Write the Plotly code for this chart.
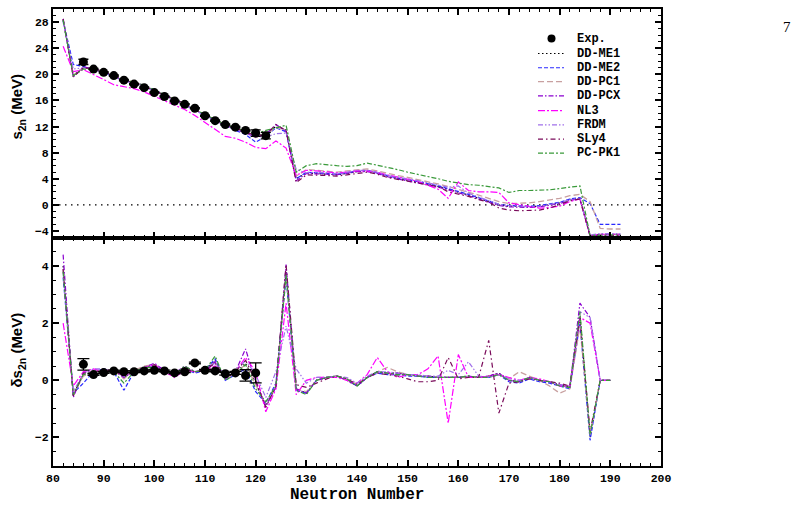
import plotly.graph_objects as go
from plotly.subplots import make_subplots

# ---------------- data ----------------
N_top = list(range(82, 194, 2))      # 82..192
N_bot = list(range(82, 192, 2))      # 82..190
N_exp = list(range(86, 124, 2))      # 86..122
N_exp_d = list(range(86, 122, 2))    # 86..120

exp_s2n = [21.9, 20.8, 20.3, 19.8, 19.1, 18.5, 17.95, 17.2, 16.6, 15.9,
           15.4, 14.8, 13.65, 12.9, 12.3, 11.9, 11.4, 11.0, 10.6]
exp_s2n_err = [0.4, 0.1, 0.1, 0.1, 0.1, 0.1, 0.1, 0.1, 0.1, 0.1,
               0.1, 0.1, 0.1, 0.1, 0.1, 0.1, 0.1, 0.5, 0.5]
exp_ds2n = [0.56, 0.2, 0.27, 0.33, 0.3, 0.3, 0.33, 0.35, 0.33, 0.26,
            0.3, 0.61, 0.35, 0.33, 0.23, 0.26, 0.17, 0.26]
exp_ds2n_err = [0.2, 0.03, 0.03, 0.03, 0.03, 0.03, 0.03, 0.03, 0.03, 0.03,
                0.03, 0.03, 0.03, 0.03, 0.05, 0.05, 0.2, 0.35]

s2n_ddme1 = [28.3, 19.8, 21.0, 20.9, 20.4, 19.8, 19.1, 18.7, 18.2, 17.5,
             16.8, 16.1, 15.5, 14.6, 13.8, 13.0, 12.3, 11.8, 11.2, 10.5,
             10.9, 12.0, 11.5, 4.0, 4.9, 4.8, 4.7, 4.6, 4.8, 5.1,
             5.2, 4.9, 4.4, 4.1, 3.8, 3.5, 3.1, 2.8, 2.4, 2.0,
             1.5, 1.0, 0.5, 0.0, -0.2, -0.3, -0.3, -0.2, 0.0, 0.3,
             0.8, 1.0, -4.7, -4.5, -4.5, -4.5]
s2n_ddme2 = [28.2, 21.5, 21.2, 20.8, 20.3, 19.7, 19.0, 18.8, 18.3, 17.6,
             16.9, 16.2, 15.4, 14.5, 13.7, 12.9, 12.2, 11.4, 10.8, 9.6,
             10.5, 11.8, 11.2, 4.0, 5.0, 4.9, 4.8, 4.7, 4.9, 5.2,
             5.3, 4.9, 4.4, 4.1, 3.9, 3.6, 3.3, 2.9, 2.5, 2.1,
             1.6, 1.1, 0.6, 0.1, -0.1, -0.2, -0.2, -0.1, 0.1, 0.4,
             0.9, 1.1, 0.2, -3.0, -3.0, -3.0]
s2n_ddpc1 = [28.4, 19.9, 21.0, 20.9, 20.4, 19.8, 19.2, 18.8, 18.3, 17.5,
             16.8, 16.1, 15.4, 14.6, 13.8, 13.0, 12.2, 11.7, 11.1, 10.3,
             10.7, 11.9, 11.4, 4.4, 5.4, 5.3, 5.1, 5.0, 5.2, 5.4,
             5.5, 5.2, 4.8, 4.5, 4.2, 3.9, 3.5, 3.2, 2.8, 2.4,
             2.0, 1.5, 1.0, 0.5, 0.2, 0.2, 0.3, 0.5, 0.7, 1.0,
             1.4, 1.6, 0.5, -3.6, -3.7, -3.7]
s2n_ddpcx = [28.5, 19.6, 21.1, 20.9, 20.4, 19.8, 19.0, 18.7, 18.2, 17.5,
             16.8, 16.0, 15.4, 14.6, 13.8, 12.9, 12.2, 11.6, 11.0, 10.4,
             10.8, 12.3, 11.3, 3.7, 4.8, 4.8, 4.7, 4.6, 4.8, 5.1,
             5.1, 4.8, 4.3, 4.0, 3.7, 3.4, 3.0, 2.7, 2.3, 1.9,
             1.4, 0.9, 0.4, -0.1, -0.3, -0.4, -0.4, -0.3, -0.1, 0.2,
             0.7, 0.9, -4.8, -4.6, -4.6, -4.6]
s2n_nl3 = [24.3, 20.4, 20.7, 20.0, 19.2, 18.4, 18.1, 17.8, 17.3, 16.6,
           16.0, 15.3, 14.6, 13.7, 12.6, 11.5, 10.5, 10.2, 9.6, 8.8,
           8.6, 9.8, 8.7, 4.5, 5.3, 5.2, 5.0, 4.9, 5.0, 5.2,
           5.2, 5.0, 4.6, 4.3, 4.0, 3.6, 3.0, 2.4, 1.0, 3.5,
           2.2, 2.0, 2.0, 1.9, 0.3, 0.0, -0.3, -0.5, -0.4, -0.2,
           0.5, 0.9, -4.7, -4.5, -4.5, -4.5]
s2n_frdm = [28.0, 20.8, 21.0, 20.7, 20.2, 19.6, 19.0, 18.6, 18.1, 17.4,
            16.7, 16.0, 15.3, 14.5, 13.7, 12.9, 12.2, 11.6, 11.0, 10.5,
            10.4, 10.9, 11.0, 5.4, 4.9, 5.0, 4.9, 4.8, 5.0, 5.3,
            5.3, 5.0, 4.5, 4.3, 4.0, 3.7, 3.4, 3.0, 2.7, 2.9,
            1.8, 1.2, 0.6, 0.1, -0.1, -0.2, -0.3, -0.2, 0.0, 0.3,
            0.8, 1.0, -4.6, -4.4, -4.4, -4.4]
s2n_sly4 = [28.5, 19.6, 21.0, 20.8, 20.4, 19.8, 19.1, 18.7, 18.2, 17.5,
            16.8, 16.1, 15.5, 14.6, 13.8, 13.0, 12.3, 11.8, 11.2, 10.6,
            10.7, 12.3, 11.4, 3.4, 4.6, 4.6, 4.5, 4.4, 4.6, 4.9,
            5.0, 4.7, 4.2, 3.9, 3.6, 3.3, 3.0, 2.8, 2.0, 1.7,
            1.3, 0.8, 0.4, -0.5, -0.8, -0.9, -0.9, -0.8, -0.5, 0.0,
            0.6, 0.9, -4.8, -4.7, -4.7, -4.7]
s2n_pcpk1 = [28.3, 19.8, 20.8, 20.8, 20.3, 19.7, 19.1, 18.8, 18.3, 17.6,
             16.9, 16.2, 15.5, 14.7, 13.8, 13.1, 12.2, 11.9, 11.3, 10.9,
             11.4, 11.8, 12.2, 5.0, 6.0, 6.3, 6.1, 6.0, 5.9, 6.0,
             6.4, 6.1, 5.7, 5.4, 5.0, 4.7, 4.4, 4.0, 3.6, 3.3,
             3.1, 3.0, 2.8, 2.6, 1.9, 2.2, 2.2, 2.2, 2.3, 2.5,
             2.7, 2.9, -4.7, -4.6, -4.6, -4.6]

ds_ddme1 = [4.0, -0.5, 0.2, 0.3, 0.35, 0.35, 0.1, 0.3, 0.45, 0.5,
            0.35, 0.25, 0.45, 0.3, 0.35, 0.7, 0.05, 0.25, 0.6, -0.1,
            -0.9, -0.2, 3.8, -0.3, -0.45, 0.0, 0.1, 0.15, 0.0, -0.2,
            0.1, 0.3, 0.25, 0.25, 0.2, 0.15, 0.15, 0.1, 0.1, 0.1,
            0.15, 0.1, 0.15, 0.25, 0.0, -0.05, 0.1, 0.0, -0.05, -0.15,
            -0.25, 2.3, -2.0, 0.0, 0.0]
ds_ddme2 = [3.6, -0.45, -0.1, 0.3, 0.4, 0.3, -0.35, 0.3, 0.45, 0.5,
            0.3, 0.2, 0.4, 0.25, 0.35, 0.75, 0.0, 0.2, 0.4, -0.4,
            -0.8, -0.1, 3.6, -0.35, -0.45, 0.0, 0.1, 0.15, 0.05, -0.2,
            0.1, 0.25, 0.2, 0.2, 0.15, 0.15, 0.1, 0.1, 0.1, 0.1,
            0.1, 0.1, 0.1, 0.2, -0.05, -0.1, 0.05, -0.05, -0.1, -0.2,
            -0.3, 2.0, -2.1, 0.0, 0.0]
ds_ddpc1 = [3.9, -0.5, 0.15, 0.3, 0.35, 0.35, 0.05, 0.35, 0.5, 0.55,
            0.35, 0.25, 0.4, 0.3, 0.35, 0.65, 0.05, 0.25, 0.55, -0.15,
            -0.85, -0.2, 3.7, -0.3, -0.4, 0.0, 0.1, 0.15, 0.05, -0.15,
            0.1, 0.3, 0.45, 0.3, 0.2, 0.15, 0.15, 0.1, 0.1, 0.1,
            0.1, 0.1, 0.15, 0.2, 0.05, 0.3, 0.15, 0.0, -0.2, -0.45,
            -0.3, 1.9, -1.9, 0.0, 0.0]
ds_ddpcx = [4.4, -0.6, 0.3, 0.3, 0.35, 0.35, 0.1, 0.3, 0.45, 0.6,
            0.35, 0.25, 0.5, 0.3, 0.35, 0.65, 0.05, 0.3, 1.1, -0.05,
            -0.9, -0.25, 4.05, -0.3, -0.45, 0.0, 0.1, 0.15, 0.0, -0.2,
            0.1, 0.3, 0.25, 0.25, 0.2, 0.15, 0.15, 0.1, 0.1, 0.1,
            0.15, 0.1, 0.15, 0.25, 0.0, -0.05, 0.1, 0.0, -0.05, -0.15,
            -0.25, 2.7, 2.2, 0.0, 0.0]
ds_nl3 = [2.0, -0.2, 0.3, 0.4, 0.3, 0.35, 0.2, 0.25, 0.45, 0.55,
          0.3, 0.1, 0.35, 0.3, 0.35, 0.5, 0.1, 0.3, 0.8, 0.3,
          -1.1, -0.3, 2.7, -0.5, 0.0, 0.1, 0.1, 0.1, 0.0, -0.1,
          0.2, 0.8, 0.3, 0.1, 0.2, 0.2, 0.4, 0.85, -1.5, 0.9,
          0.1, 0.1, 0.15, 0.2, 0.1, 0.0, 0.1, 0.05, -0.05, -0.2,
          -0.2, 2.2, 2.0, 0.0, 0.0]
ds_frdm = [3.8, -0.4, 0.25, 0.4, 0.4, 0.3, 0.15, 0.3, 0.45, 0.5,
           0.4, 0.2, 0.45, 0.3, 0.4, 0.6, 0.1, 0.3, 0.7, 0.2,
           -0.6, 0.3, 1.9, 0.4, -0.1, 0.1, 0.1, 0.15, 0.1, -0.1,
           0.15, 0.3, 0.3, 0.25, 0.2, 0.2, 0.15, 0.15, 0.35, 0.2,
           0.65, 0.15, 0.1, 0.2, 0.05, 0.0, 0.1, 0.0, -0.05, -0.15,
           -0.2, 2.4, 2.2, 0.0, 0.0]
ds_sly4 = [3.9, -0.55, 0.25, 0.3, 0.35, 0.35, 0.15, 0.3, 0.4, 0.55,
           0.3, 0.25, 0.45, 0.3, 0.35, 0.6, 0.1, 0.3, 0.7, 0.0,
           -0.95, -0.2, 4.05, -0.15, -0.25, -0.1, 0.05, 0.15, 0.05, -0.15,
           0.1, 0.25, 0.2, 0.15, 0.05, -0.05, -0.05, 0.0, 0.8, 0.05,
           0.1, 0.1, 1.4, -1.15, -0.1, -0.05, 0.05, 0.0, -0.05, -0.1,
           -0.2, 2.2, -1.8, 0.0, 0.0]
ds_pcpk1 = [3.8, -0.5, 0.2, 0.3, 0.35, 0.3, -0.1, 0.3, 0.45, 0.45,
            0.3, 0.2, 0.5, 0.3, 0.35, 0.85, 0.0, 0.2, 0.55, -0.3,
            -0.75, -0.2, 3.7, -0.35, -0.5, 0.0, 0.1, 0.15, 0.05, -0.2,
            0.1, 0.3, 0.25, 0.2, 0.2, 0.15, 0.1, 0.1, 0.1, 0.1,
            0.15, 0.1, 0.1, 0.2, 0.0, -0.05, 0.1, 0.0, -0.05, -0.2,
            -0.25, 2.4, -1.9, 0.0, 0.0]

model_names = ["DD-ME1", "DD-ME2", "DD-PC1", "DD-PCX", "NL3", "FRDM", "SLy4", "PC-PK1"]
model_s2n = [s2n_ddme1, s2n_ddme2, s2n_ddpc1, s2n_ddpcx, s2n_nl3, s2n_frdm, s2n_sly4, s2n_pcpk1]
model_ds = [ds_ddme1, ds_ddme2, ds_ddpc1, ds_ddpcx, ds_nl3, ds_frdm, ds_sly4, ds_pcpk1]

x_ticks = list(range(80, 210, 10))

# ---------------- styles ----------------
styles = [
    dict(color="#000000", dash="1.5px,2.5px", width=1.2),
    dict(color="#2a2aff", dash="4px,2px", width=1.2),
    dict(color="#c8a0a0", dash="6px,3px", width=1.3),
    dict(color="#8a00d0", dash="5px,2px,1.5px,2px", width=1.2),
    dict(color="#ff00ff", dash="7px,2px,2px,2px", width=1.2),
    dict(color="#a070ea", dash="5px,2px,1.5px,2px,1.5px,2px", width=1.2),
    dict(color="#7a0a5a", dash="5px,3px,1.5px,3px", width=1.2),
    dict(color="#3a9a3a", dash="5px,2px,2px,2px", width=1.2),
]

MONO = "Liberation Mono, Courier New, Cousine, monospace"

fig = make_subplots(rows=2, cols=1, shared_xaxes=True, vertical_spacing=0)

for name, s, d, st in zip(model_names, model_s2n, model_ds, styles):
    fig.add_trace(go.Scatter(x=N_top, y=s, mode="lines", name=name, showlegend=False,
                             line=st), row=1, col=1)
    fig.add_trace(go.Scatter(x=N_bot, y=d, mode="lines", name=name, showlegend=False,
                             line=st), row=2, col=1)

fig.add_trace(go.Scatter(x=N_exp, y=exp_s2n, mode="markers", name="Exp.", showlegend=False,
                         marker=dict(color="black", size=9),
                         error_y=dict(type="data", array=exp_s2n_err, color="black",
                                      thickness=1.3, width=5)), row=1, col=1)
fig.add_trace(go.Scatter(x=N_exp_d, y=exp_ds2n, mode="markers", name="Exp.", showlegend=False,
                         marker=dict(color="black", size=9),
                         error_y=dict(type="data", array=exp_ds2n_err, color="black",
                                      thickness=1.3, width=6)), row=2, col=1)

tickfont = dict(family=MONO, size=11.5, color="black", weight="bold")
axis_common = dict(showline=True, linewidth=2, linecolor="black", mirror="ticks",
                   ticks="inside", ticklen=6, tickwidth=1.5, tickcolor="black",
                   showgrid=False, zeroline=False, tickfont=tickfont)

fig.update_xaxes(range=[80, 200], tickvals=x_ticks,
                 minor=dict(dtick=2, tick0=80, ticks="inside", ticklen=3, tickwidth=1.2,
                            tickcolor="black"), **axis_common)
fig.update_xaxes(showticklabels=False, row=1, col=1)
fig.update_yaxes(range=[-5, 30], dtick=4, tick0=0,
                 minor=dict(dtick=1, tick0=0, ticks="inside", ticklen=3, tickwidth=1.2,
                            tickcolor="black"), row=1, col=1, **axis_common)
fig.update_yaxes(range=[-3, 5], dtick=2, tick0=0,
                 minor=dict(dtick=0.5, tick0=0, ticks="inside", ticklen=3, tickwidth=1.2,
                            tickcolor="black"), row=2, col=1, **axis_common)

# zero reference line in the top panel
fig.add_shape(type="line", xref="x domain", yref="y", x0=0, x1=1, y0=0, y1=0,
              line=dict(color="black", width=1.3, dash="1.5px,4.5px"), layer="below")

# ---------------- custom legend ----------------
L, R, T, B = 53, 661, 7, 466
W, H = R - L, B - T
def px(xp):
    return (xp - L) / W
def py(yp):
    return (B - yp) / H

leg_rows = [36.7, 51.7, 66.0, 80.0, 94.3, 109.0, 123.3, 137.7, 151.7]
leg_font = dict(family=MONO, size=12, color="black", weight="bold")
# Exp. entry
fig.add_shape(type="circle", xref="paper", yref="paper",
              x0=px(547.5), x1=px(555.5), y0=py(leg_rows[0] + 4), y1=py(leg_rows[0] - 4),
              fillcolor="black", line=dict(color="black", width=0))
fig.add_annotation(x=px(575), y=py(leg_rows[0]), xref="paper", yref="paper", text="Exp.",
                   showarrow=False, xanchor="left", yanchor="middle", font=leg_font)
for i, (name, st) in enumerate(zip(model_names, styles)):
    yy = py(leg_rows[i + 1])
    fig.add_shape(type="line", xref="paper", yref="paper", x0=px(538), x1=px(564),
                  y0=yy, y1=yy, line=st)
    fig.add_annotation(x=px(575), y=yy, xref="paper", yref="paper", text=name,
                       showarrow=False, xanchor="left", yanchor="middle", font=leg_font)

# ---------------- titles ----------------
title_font = dict(family="Liberation Sans, Arial, sans-serif", size=15, color="black",
                  weight="bold")
fig.add_annotation(x=px(18), y=py(105), xref="paper", yref="paper",
                   text="s<sub>2n</sub> (MeV)", textangle=-90, showarrow=False,
                   xanchor="center", yanchor="middle", font=title_font)
fig.add_annotation(x=px(18), y=py(350), xref="paper", yref="paper",
                   text="\u03b4s<sub>2n</sub> (MeV)", textangle=-90, showarrow=False,
                   xanchor="center", yanchor="middle", font=title_font)
fig.add_annotation(x=px(357), y=py(495), xref="paper", yref="paper",
                   text="Neutron Number", showarrow=False,
                   xanchor="center", yanchor="middle",
                   font=dict(family=MONO, size=16, color="black", weight="bold"))
fig.add_annotation(x=px(787), y=py(25), xref="paper", yref="paper", text="7",
                   showarrow=False, xanchor="center", yanchor="middle",
                   font=dict(family="Liberation Serif, Times New Roman, serif", size=15,
                             color="black"))

fig.update_layout(width=809, height=505, margin=dict(l=L, r=809 - R, t=T, b=505 - B),
                  paper_bgcolor="white", plot_bgcolor="white", showlegend=False)

fig.write_html("out.html")
